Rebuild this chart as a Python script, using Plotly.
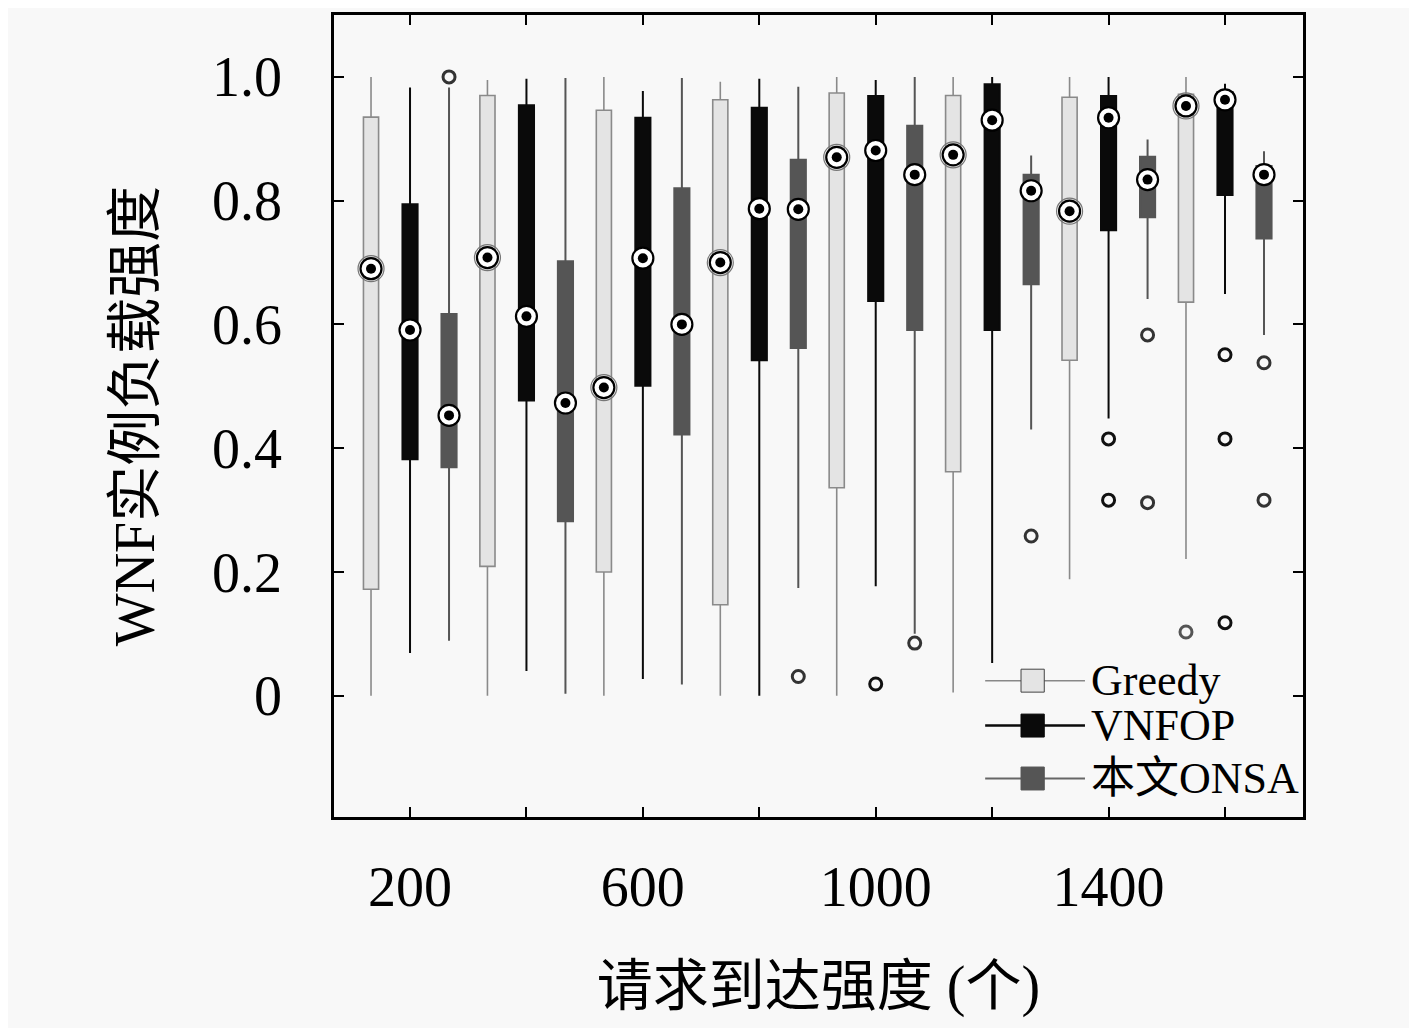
import plotly.graph_objects as go

# Request arrival rate groups (x positions)
rates = [200, 400, 600, 800, 1000, 1200, 1400, 1600]
tick_text = ['200', '', '600', '', '1000', '', '1400', '']

# Box statistics: lower whisker, q1, median, q3, upper whisker
greedy_low = [0.0, 0.0, 0.0, 0.0, 0.0, 0.005, 0.188, 0.221]
greedy_q1 = [0.172, 0.209, 0.200, 0.147, 0.336, 0.362, 0.542, 0.636]
greedy_med = [0.690, 0.708, 0.498, 0.700, 0.870, 0.874, 0.783, 0.953]
greedy_q3 = [0.935, 0.970, 0.946, 0.963, 0.974, 0.970, 0.967, 0.972]
greedy_up = [1.0, 0.995, 1.0, 0.992, 1.0, 1.0, 1.0, 1.0]

vnfop_low = [0.069, 0.040, 0.027, 0.0, 0.177, 0.053, 0.448, 0.649]
vnfop_q1 = [0.382, 0.477, 0.501, 0.542, 0.638, 0.591, 0.752, 0.809]
vnfop_med = [0.591, 0.613, 0.707, 0.787, 0.881, 0.930, 0.934, 0.963]
vnfop_q3 = [0.794, 0.954, 0.934, 0.950, 0.969, 0.988, 0.969, 0.975]
vnfop_up = [0.983, 0.997, 0.977, 0.997, 0.995, 1.0, 1.0, 0.989]

onsa_low = [0.089, 0.003, 0.018, 0.174, 0.100, 0.430, 0.641, 0.583]
onsa_q1 = [0.369, 0.282, 0.422, 0.562, 0.591, 0.665, 0.773, 0.739]
onsa_med = [0.453, 0.473, 0.600, 0.786, 0.842, 0.816, 0.834, 0.842]
onsa_q3 = [0.617, 0.702, 0.820, 0.866, 0.921, 0.842, 0.871, 0.856]
onsa_up = [0.983, 0.998, 0.998, 0.984, 1.0, 0.873, 0.899, 0.880]

# Outliers: (group, value)
greedy_out_x = [1600]
greedy_out_y = [0.103]
vnfop_out_x = [1000, 1400, 1400, 1600, 1600, 1600]
vnfop_out_y = [0.019, 0.415, 0.316, 0.551, 0.415, 0.118]
onsa_out_x = [200, 800, 1000, 1200, 1400, 1400, 1600, 1600]
onsa_out_y = [1.0, 0.031, 0.085, 0.258, 0.583, 0.312, 0.538, 0.316]

offset = 67
box_w = 26

series = [
    dict(name='Greedy', shift=-offset, low=greedy_low, q1=greedy_q1, med=greedy_med,
         q3=greedy_q3, up=greedy_up, ox=greedy_out_x, oy=greedy_out_y,
         fill='#e4e4e4', line='#8a8a8a', lw=1.6, ocolor='#555555'),
    dict(name='VNFOP', shift=0, low=vnfop_low, q1=vnfop_q1, med=vnfop_med,
         q3=vnfop_q3, up=vnfop_up, ox=vnfop_out_x, oy=vnfop_out_y,
         fill='#0a0a0a', line='#0a0a0a', lw=2, ocolor='#111111'),
    dict(name='本文ONSA', shift=offset, low=onsa_low, q1=onsa_q1, med=onsa_med,
         q3=onsa_q3, up=onsa_up, ox=onsa_out_x, oy=onsa_out_y,
         fill='#555555', line='#555555', lw=2, ocolor='#333333'),
]

fig = go.Figure()

for s in series:
    xs = [r + s['shift'] for r in rates]
    fig.add_trace(go.Box(
        x=xs, q1=s['q1'], median=s['med'], q3=s['q3'],
        lowerfence=s['low'], upperfence=s['up'],
        width=box_w, whiskerwidth=0, boxpoints=False,
        fillcolor=s['fill'], line=dict(color=s['line'], width=s['lw']),
        name=s['name'], showlegend=False,
    ))
    # outliers
    fig.add_trace(go.Scatter(
        x=[r + s['shift'] for r in s['ox']], y=s['oy'], mode='markers',
        marker=dict(symbol='circle-open', size=12, color=s['ocolor'], line=dict(width=3)),
        showlegend=False,
    ))

# median markers: ringed dot
for s in series:
    xs = [r + s['shift'] for r in rates]
    if s['name'] == 'Greedy':
        fig.add_trace(go.Scatter(
            x=xs, y=s['med'], mode='markers',
            marker=dict(symbol='circle-open', size=26, color='#777777', line=dict(width=1.2)),
            showlegend=False,
        ))
    fig.add_trace(go.Scatter(
        x=xs, y=s['med'], mode='markers',
        marker=dict(symbol='circle', size=21, color='white', line=dict(color='black', width=2.2)),
        showlegend=False,
    ))
    fig.add_trace(go.Scatter(
        x=xs, y=s['med'], mode='markers',
        marker=dict(symbol='circle', size=10, color='black'),
        showlegend=False,
    ))

font_family = 'Liberation Serif, Noto Sans CJK SC'

# Hand-made legend in the lower right corner (paper coordinates)
legend_rows = [
    ('Greedy', 0.170, '#e4e4e4', '#444444', '#888888', 1.5),
    ('VNFOP', 0.114, '#0a0a0a', '#0a0a0a', '#0a0a0a', 2.5),
    ('本文ONSA', 0.048, '#555555', '#555555', '#666666', 2),
]
for label, yy, fill, edge, lcol, lw in legend_rows:
    fig.add_shape(type='line', xref='paper', yref='paper', x0=0.672, x1=0.775, y0=yy, y1=yy,
                  line=dict(color=lcol, width=lw))
    fig.add_shape(type='rect', xref='paper', yref='paper', x0=0.709, x1=0.733,
                  y0=yy - 0.0143, y1=yy + 0.0143, fillcolor=fill, line=dict(color=edge, width=1))
    fig.add_annotation(x=0.779, y=yy, xref='paper', yref='paper', text=label, showarrow=False,
                       xanchor='left', yanchor='middle',
                       font=dict(size=44, color='black', family=font_family))

fig.update_layout(
    width=1417, height=1028,
    margin=dict(l=326, r=122, t=4, b=219),
    paper_bgcolor='#f8f8f8', plot_bgcolor='#f8f8f8',
    font=dict(family=font_family, color='black'),
    boxmode='overlay',
)

fig.update_xaxes(
    range=[69.4, 1734], tickvals=rates, ticktext=tick_text,
    ticks='inside', ticklen=10, tickwidth=2, tickcolor='black',
    showline=True, linewidth=2.5, linecolor='black', mirror='ticks',
    showgrid=False, zeroline=False,
    tickfont=dict(size=56, family=font_family), ticklabelstandoff=19,
    title=dict(text='请求到达强度 (个)', font=dict(size=56, family=font_family), standoff=49),
)
fig.update_yaxes(
    range=[-0.196, 1.1], tickvals=[0, 0.2, 0.4, 0.6, 0.8, 1.0],
    ticktext=['0', '0.2', '0.4', '0.6', '0.8', '1.0'],
    ticks='inside', ticklen=10, tickwidth=2, tickcolor='black',
    showline=True, linewidth=2.5, linecolor='black', mirror='ticks',
    showgrid=False, zeroline=False,
    tickfont=dict(size=56, family=font_family), ticklabelstandoff=38,
    title=dict(text='WNF实例负载强度', font=dict(size=56, family=font_family), standoff=40),
)

fig.write_html("out.html")
